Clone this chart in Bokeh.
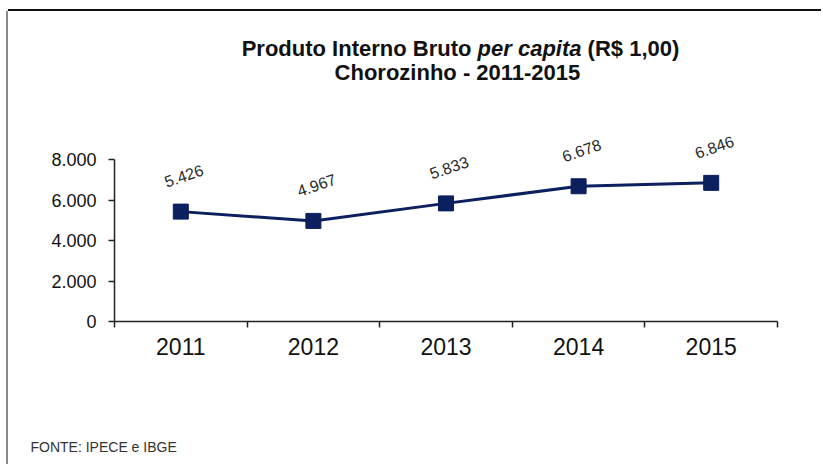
from bokeh.plotting import figure
from bokeh.models import (ColumnDataSource, FixedTicker, LabelSet, Label, Range1d)
from bokeh.core.properties import value
from bokeh.embed import file_html
from bokeh.resources import INLINE

# ---- data ----
years = ["2011", "2012", "2013", "2014", "2015"]
pib_per_capita = [5426, 4967, 5833, 6678, 6846]
y_ticks = [0, 2000, 4000, 6000, 8000]
title_parts = ["Produto Interno Bruto", "per capita", "(R$ 1,00)"]
title_line2 = "Chorozinho  - 2011-2015"
source_note = "FONTE: IPECE e IBGE"


def fmt_br(v):
    return f"{v:,}".replace(",", ".")


xs = [i + 0.5 for i in range(len(years))]
src = ColumnDataSource(dict(
    x=xs, y=pib_per_capita, label=[fmt_br(v) for v in pib_per_capita]))

# ---- geometry (page pixels) ----
W, H = 813, 453
OX, OY = 8, 11                 # plot offset on the page
AX_L, AX_R = 114, 777          # x axis extent
AX_B, AX_T = 321, 159          # y = 0 and y = top tick
n = len(years)
ppx = (AX_R - AX_L) / n
ppy = (AX_B - AX_T) / y_ticks[-1]
x_start = (OX - AX_L) / ppx
x_end = (OX + W - AX_L) / ppx
y_start = (AX_B - (OY + H)) / ppy
y_end = (AX_B - OY) / ppy

FONT = "Liberation Sans"
NAVY = "#0c1f5e"

p = figure(width=W, height=H, output_backend="svg", toolbar_location=None,
           x_range=Range1d(x_start, x_end), y_range=Range1d(y_start, y_end),
           min_border=0)
p.margin = (OY, 0, 0, OX)
p.styles = {"box-shadow": "0 -2px 0 0 #111111, -2px 0 0 0 #8a8a8a"}
p.outline_line_color = None
p.xgrid.visible = False
p.ygrid.visible = False
p.background_fill_color = "white"
p.border_fill_color = "white"

# x axis: labels at category centres, ticks at boundaries
xa = p.xaxis[0]
xa.fixed_location = 0
xa.bounds = (0, n)
xa.ticker = FixedTicker(ticks=xs, minor_ticks=list(range(n + 1)))
xa.major_label_overrides = {x: y for x, y in zip(xs, years)}
xa.major_tick_out = 0
xa.major_tick_in = 0
xa.minor_tick_out = 6
xa.minor_tick_in = 0
xa.minor_tick_line_color = "#222222"
xa.minor_tick_line_width = 1.5
xa.axis_line_color = "#222222"
xa.axis_line_width = 1.5
xa.major_label_text_font = FONT
xa.major_label_text_font_size = "23px"
xa.major_label_text_color = "#111111"
xa.major_label_standoff = 10

ya = p.yaxis[0]
ya.fixed_location = 0
ya.bounds = (0, y_ticks[-1])
ya.ticker = FixedTicker(ticks=y_ticks, minor_ticks=[])
ya.major_label_overrides = {v: fmt_br(v) for v in y_ticks}
ya.major_tick_out = 6
ya.major_tick_in = 0
ya.major_tick_line_color = "#222222"
ya.major_tick_line_width = 1.5
ya.axis_line_color = "#222222"
ya.axis_line_width = 1.5
ya.major_label_text_font = FONT
ya.major_label_text_font_size = "18px"
ya.major_label_text_color = "#111111"
ya.major_label_standoff = 12

p.line("x", "y", source=src, line_color=NAVY, line_width=3)
p.scatter("x", "y", source=src, marker="square", size=15,
          fill_color=NAVY, line_color=NAVY)

p.add_layout(LabelSet(x="x", y="y", text="label", source=src,
                      angle=0.33, x_offset=3, y_offset=36,
                      text_align="center", text_baseline="middle",
                      text_font=value(FONT), text_font_size=value("16px"),
                      text_color="#2a2a2a"))


def sx(page_x):
    return page_x - OX


def sy(page_y):
    return (OY + H) - page_y


# title pieces (screen units); widths in Arial-bold em/1000 units
TS = 22
widths = [10444, 4724, 4168]
gap = 278
total = (sum(widths) + gap * (len(widths) - 1)) * TS / 1000.0
cx = 460
x0 = cx - total / 2
styles = ["bold", "bold italic", "bold"]
for part, w, st in zip(title_parts, widths, styles):
    p.add_layout(Label(x=sx(x0), y=sy(48), x_units="screen", y_units="screen",
                       text=part, text_font=FONT, text_font_size=f"{TS}px",
                       text_font_style=st, text_align="left",
                       text_baseline="middle", text_color="#111111"))
    x0 += (w + gap) * TS / 1000.0
p.add_layout(Label(x=sx(cx), y=sy(72), x_units="screen", y_units="screen",
                   text=title_line2, text_font=FONT, text_font_size=f"{TS}px",
                   text_font_style="bold", text_align="center",
                   text_baseline="middle", text_color="#111111"))

p.add_layout(Label(x=sx(30), y=sy(446), x_units="screen", y_units="screen",
                   text=source_note, text_font=FONT, text_font_size="14px",
                   text_align="left", text_baseline="middle",
                   text_color="#333333"))

open("out.html", "w").write(file_html(p, INLINE))
